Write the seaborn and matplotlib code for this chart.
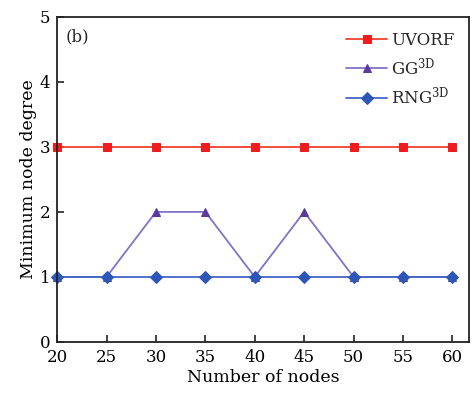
import matplotlib
matplotlib.use("Agg")
import matplotlib.pyplot as plt
import seaborn as sns
import pandas as pd

nodes = [20, 25, 30, 35, 40, 45, 50, 55, 60]
uvorf = [3, 3, 3, 3, 3, 3, 3, 3, 3]
gg3d = [1, 1, 2, 2, 1, 2, 1, 1, 1]
rng3d = [1, 1, 1, 1, 1, 1, 1, 1, 1]

labels = ["UVORF", r"GG$^{\mathrm{3D}}$", r"RNG$^{\mathrm{3D}}$"]
colors = ["#f2402e", "#8272c8", "#4466c4"]
markers = ["s", "^", "D"]
marker_colors = ["#ee1c1c", "#5a3a9c", "#2e55b8"]
marker_sizes = [5.5, 5.5, 6.5]


def main():
    sns.set_style("ticks")
    plt.rcParams["font.family"] = ["DejaVu Serif"]
    plt.rcParams["mathtext.fontset"] = "dejavuserif"

    fig = plt.figure(figsize=(4.72, 3.93), dpi=100)
    ax = fig.add_axes([0.121, 0.130, 0.873, 0.827])

    for ys, lab, c, m, mc, ms in zip([uvorf, gg3d, rng3d], labels, colors,
                                     markers, marker_colors, marker_sizes):
        df = pd.DataFrame({"n": nodes, "v": ys})
        sns.lineplot(data=df, x="n", y="v", ax=ax, color=c, marker=m,
                     markersize=ms, markerfacecolor=mc,
                     markeredgecolor=mc, linewidth=1.3, label=lab, clip_on=False)

    ax.set_xlim(20, 61.7)
    ax.set_ylim(0, 5)
    ax.set_xticks(nodes)
    ax.set_yticks([0, 1, 2, 3, 4, 5])
    ax.tick_params(direction="in", length=5, width=1.2, labelsize=12, pad=5,
                   color="#222222", labelcolor="black")
    for s in ax.spines.values():
        s.set_linewidth(1.3)
        s.set_color("#222222")
    ax.set_xlabel("Number of nodes", fontsize=12.5, labelpad=2, color="black")
    ax.set_ylabel("Minimum node degree", fontsize=12.5, labelpad=2, color="black")
    ax.text(0.02, 0.965, "(b)", transform=ax.transAxes, fontsize=12,
            va="top", ha="left")
    ax.legend(loc="upper right", frameon=False, fontsize=12, handlelength=2.5,
              borderaxespad=0.5, labelspacing=0.45, handletextpad=0.2)

    plt.savefig("out.png", dpi=100)


if __name__ == "__main__":
    main()
